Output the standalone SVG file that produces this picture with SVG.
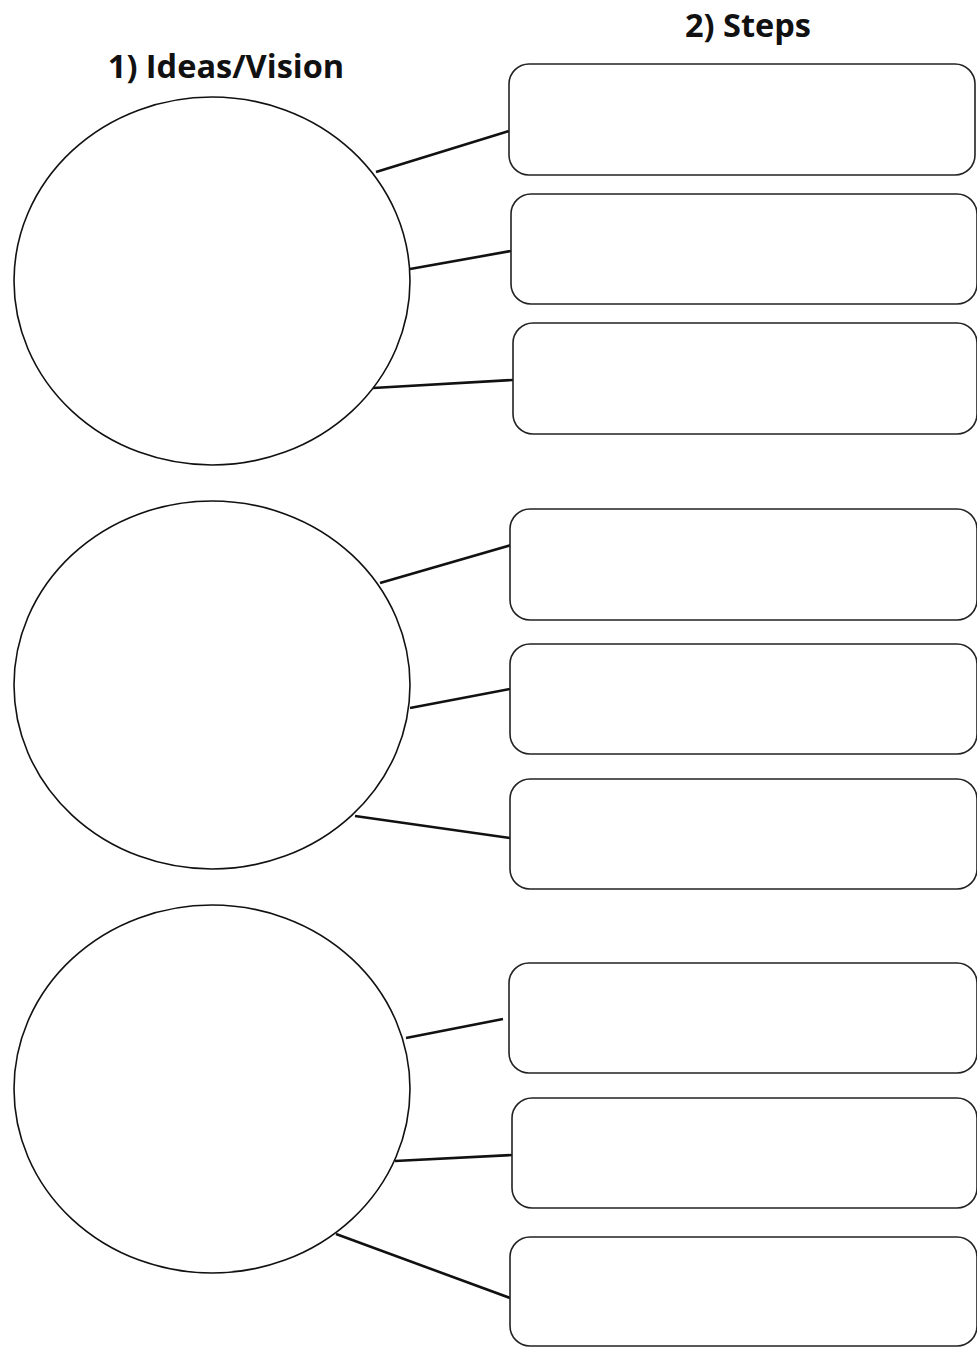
<svg xmlns="http://www.w3.org/2000/svg" width="977" height="1348" viewBox="0 0 977 1348">
<style>
.t{font-family:"Open Sans","Liberation Sans",sans-serif;font-weight:bold;font-size:32.5px;fill:#111;text-anchor:middle}
.c{fill:#fff;stroke:#111;stroke-width:1.6}
.b{fill:#fff;stroke:#222;stroke-width:1.6}
.l{stroke:#111;stroke-width:2.6;fill:none}
</style>
<rect width="977" height="1348" fill="#fff"/>
<g id="titles">
<text class="t" x="226" y="78">1) Ideas/Vision</text>
<text class="t" x="748" y="37">2) Steps</text>
</g>
<g id="connectors">
<line class="l" x1="376" y1="172" x2="509" y2="131"/>
<line class="l" x1="410" y1="269" x2="511" y2="251"/>
<line class="l" x1="373" y1="388" x2="513" y2="380"/>
<line class="l" x1="380" y1="583" x2="511" y2="545"/>
<line class="l" x1="410" y1="708" x2="510" y2="689"/>
<line class="l" x1="355" y1="816" x2="510" y2="838"/>
<line class="l" x1="406" y1="1038" x2="503" y2="1019"/>
<line class="l" x1="395" y1="1161" x2="512" y2="1155"/>
<line class="l" x1="336" y1="1234" x2="510" y2="1298"/>
</g>
<g id="idea1"><ellipse class="c" cx="212" cy="281" rx="198" ry="184"/></g>
<g id="idea2"><ellipse class="c" cx="212" cy="685" rx="198" ry="184"/></g>
<g id="idea3"><ellipse class="c" cx="212" cy="1089" rx="198" ry="184"/></g>
<g id="step1"><rect class="b" x="509" y="64" width="466" height="111" rx="20"/></g>
<g id="step2"><rect class="b" x="511" y="194" width="466" height="110" rx="20"/></g>
<g id="step3"><rect class="b" x="513" y="323" width="464" height="111" rx="20"/></g>
<g id="step4"><rect class="b" x="510" y="509" width="467" height="111" rx="20"/></g>
<g id="step5"><rect class="b" x="510" y="644" width="467" height="110" rx="20"/></g>
<g id="step6"><rect class="b" x="510" y="779" width="467" height="110" rx="20"/></g>
<g id="step7"><rect class="b" x="509" y="963" width="468" height="110" rx="20"/></g>
<g id="step8"><rect class="b" x="512" y="1098" width="465" height="110" rx="20"/></g>
<g id="step9"><rect class="b" x="510" y="1237" width="467" height="109" rx="20"/></g>
</svg>
